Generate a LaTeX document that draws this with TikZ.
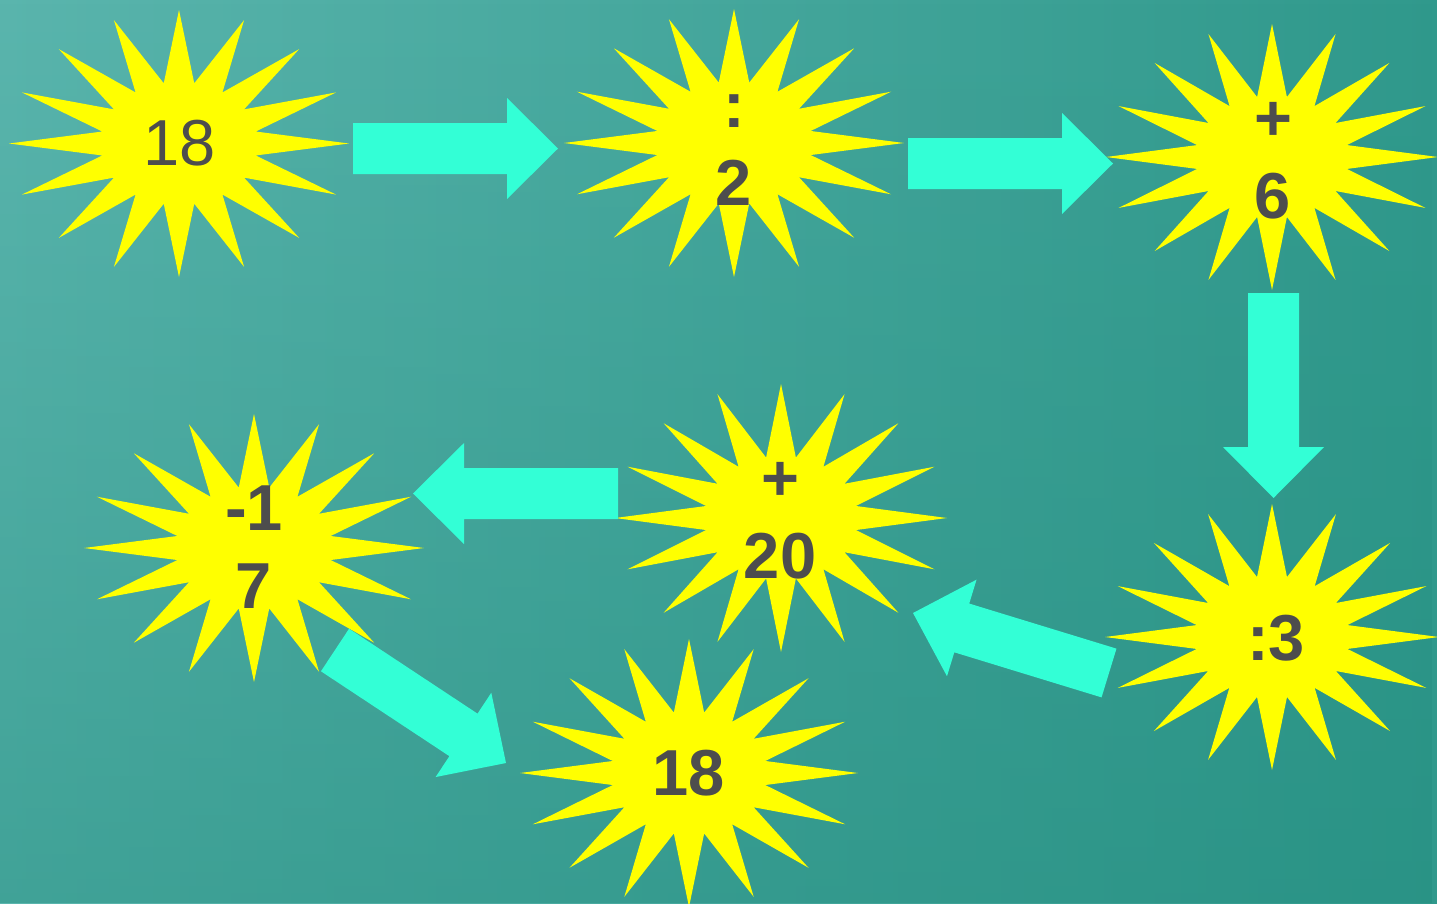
\documentclass[tikz,border=0pt]{standalone}
\usepackage{fontspec}
\setmainfont{Liberation Sans}
\usetikzlibrary{calc,fadings}
\definecolor{bgA}{HTML}{5AB5AD}
\definecolor{bgM}{HTML}{50AFA6}
\definecolor{bgB}{HTML}{30998C}
\definecolor{bgD}{HTML}{228C7E}
\definecolor{arrowc}{HTML}{33FFD6}
\definecolor{sunc}{HTML}{FFFF00}
\definecolor{inkc}{HTML}{4D4D4D}
\tikzset{
  burstfill/.style={fill=sunc},
  arrowfill/.style={fill=arrowc},
  lbl/.style={text=inkc, font=\fontsize{65}{78}\selectfont\bfseries, align=center, inner sep=0pt},
  lblthin/.style={text=inkc, font=\fontsize{65}{78}\selectfont, align=center, inner sep=0pt}
}
\newcommand{\burst}[5]{%
  \coordinate (#1) at (#2,#3);
  \fill[burstfill] plot[samples at={0,...,31}] ({#2+(isodd(\x)?0.46:1)*#4*cos(\x*11.25)},{#3+(isodd(\x)?0.46:1)*#5*sin(\x*11.25)}) -- cycle;
}
\newcommand{\blockarrow}[2]{%
  \coordinate (#1hb) at ($(#2)!51pt!(#1)$);
  \fill[arrowfill] ($(#1)!25.5pt!90:(#2)$) -- ($(#1hb)!25.5pt!90:(#2)$) -- ($(#1hb)!50.5pt!90:(#2)$) -- (#2) -- ($(#1hb)!50.5pt!-90:(#2)$) -- ($(#1hb)!25.5pt!-90:(#2)$) -- ($(#1)!25.5pt!-90:(#2)$) -- cycle;
}
\begin{document}
\begin{tikzpicture}[x=1pt,y=-1pt]
\useasboundingbox (0,0) rectangle (1437,903);
\clip (0,0) rectangle (1437,903);
\shade[left color=bgA, middle color=bgM, right color=bgB] (0,0) rectangle (1437,903);
\fill[bgD, opacity=0.45, path fading=north] (0,0) rectangle (1437,903);
% stars
\burst{s1}{179}{143.5}{170}{133.5}
\burst{s2}{734}{143}{170}{134}
\burst{s3}{1272}{157}{166}{133}
\burst{s4}{254}{548}{170}{134}
\burst{s5}{781}{518}{166}{134}
\burst{s6}{689}{773}{169}{134}
\burst{s7}{1272}{637}{167}{133}
% labels
\node[lblthin] (t1) at (180,143.5) {18};
\node[lbl] (t2) at (734,150) {:\\2};
\node[lbl] (t3) at (1273,161) {+\\6};
\node[lbl] (t4) at (254,547) {-1\\7};
\node[lbl] (t5) at (780,521) {+\\20};
\node[lbl] (t6) at (689,773) {18};
\node[lbl] (t7) at (1276,638) {:3};
% arrow end points
\coordinate (a1s) at (353,148.5);  \coordinate (a1e) at (558,148.5);
\coordinate (a2s) at (908,163.5);  \coordinate (a2e) at (1113,163.5);
\coordinate (a3s) at (1273.5,293); \coordinate (a3e) at (1273.5,498);
\coordinate (a4s) at (618,493.5);  \coordinate (a4e) at (413,493.5);
\coordinate (a5s) at (1109,673);   \coordinate (a5e) at (913,613);
\coordinate (a6s) at (335,650);    \coordinate (a6e) at (506,763);
\blockarrow{a1s}{a1e}
\blockarrow{a2s}{a2e}
\blockarrow{a3s}{a3e}
\blockarrow{a4s}{a4e}
\blockarrow{a5s}{a5e}
\blockarrow{a6s}{a6e}
\end{tikzpicture}
\end{document}
